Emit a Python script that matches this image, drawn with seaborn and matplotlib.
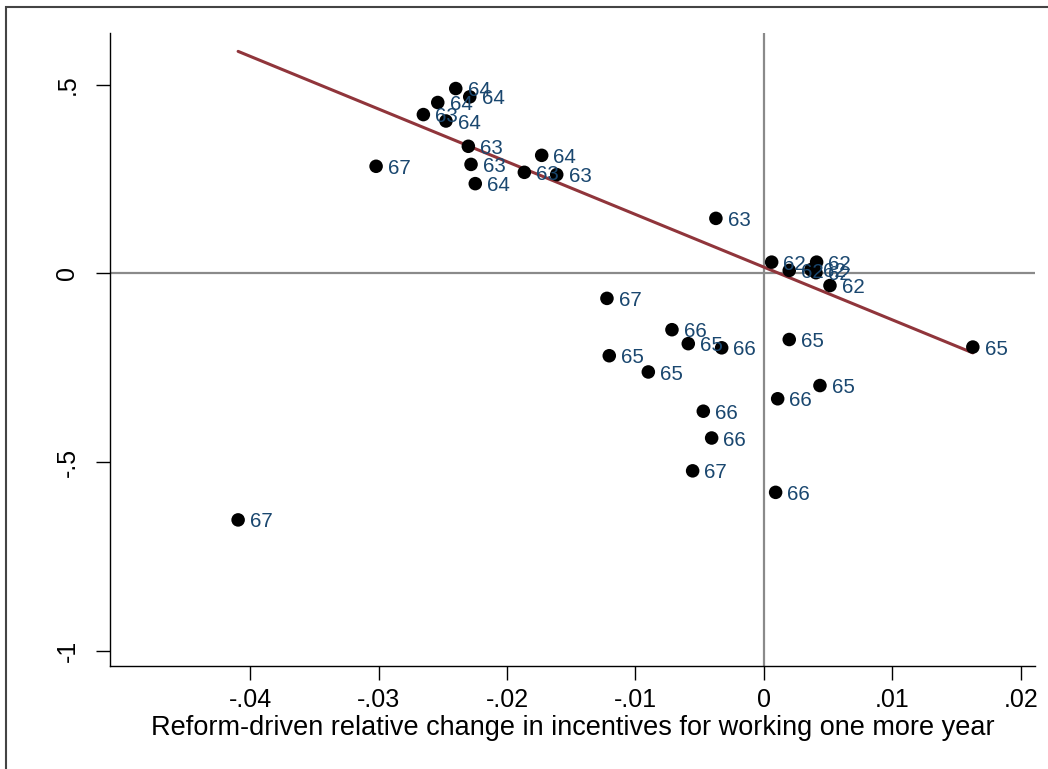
import numpy as np
import pandas as pd
import matplotlib
matplotlib.use("Agg")
import matplotlib.pyplot as plt
from matplotlib.patches import Rectangle
import seaborn as sns

# Reform-driven change in incentives (x), outcome change (y), and retirement age per observation
incentive_change = [
    -0.02399, -0.02290, -0.02539, -0.02475, -0.01730, -0.02247,   # age 64
    -0.02651, -0.02301, -0.02280, -0.01865, -0.01613, -0.00374,   # age 63
    0.00060, 0.00197, 0.00366, 0.00410, 0.00405, 0.00514,         # age 62
    -0.00589, -0.01204, -0.00900, 0.00197, 0.00436, 0.01626,      # age 65
    -0.00716, -0.00329, 0.00107, -0.00472, -0.00407, 0.00091,     # age 66
    -0.03019, -0.01222, -0.00555, -0.04093,                       # age 67
]
outcome_change = [
    0.490, 0.468, 0.453, 0.404, 0.313, 0.238,
    0.421, 0.337, 0.289, 0.268, 0.262, 0.146,
    0.030, 0.008, 0.010, 0.030, 0.002, -0.032,
    -0.186, -0.218, -0.261, -0.175, -0.297, -0.195,
    -0.149, -0.197, -0.332, -0.365, -0.436, -0.580,
    0.284, -0.066, -0.523, -0.653,
]
age = [
    64, 64, 64, 64, 64, 64,
    63, 63, 63, 63, 63, 63,
    62, 62, 62, 62, 62, 62,
    65, 65, 65, 65, 65, 65,
    66, 66, 66, 66, 66, 66,
    67, 67, 67, 67,
]

# fitted linear relationship (intercept, slope)
fit_intercept = 0.0167
fit_slope = -13.97

x_ticks = [-0.04, -0.03, -0.02, -0.01, 0.0, 0.01, 0.02]
x_tick_labels = ["-.04", "-.03", "-.02", "-.01", "0", ".01", ".02"]
y_ticks = [-1.0, -0.5, 0.0, 0.5]
y_tick_labels = ["-1", "-.5", "0", ".5"]

df = pd.DataFrame({"x": incentive_change, "y": outcome_change, "age": age})
fit_x = np.array([df["x"].min(), df["x"].max()])
fit_df = pd.DataFrame({"x": fit_x, "y": fit_intercept + fit_slope * fit_x})

sns.set_theme(style="white")
plt.rcParams["font.family"] = ["Liberation Sans", "DejaVu Sans"]

fig = plt.figure(figsize=(10.48, 7.69), dpi=100)
ax = fig.add_axes([0.105, 0.134, 0.8826, 0.823])

label_color = "#1a476f"
line_color = "#90353b"
ref_color = "#8a8a8a"

# reference lines through the origin
ax.axhline(0, color=ref_color, lw=1.6, zorder=1)
ax.axvline(0, color=ref_color, lw=1.6, zorder=1)

# fitted line over the data range
sns.lineplot(data=fit_df, x="x", y="y", color=line_color, lw=2.2, zorder=2, ax=ax)

sns.scatterplot(data=df, x="x", y="y", color="black", s=95, edgecolor="none",
                zorder=3, ax=ax, legend=False)

for xi, yi, a in zip(df["x"], df["y"], df["age"]):
    ax.annotate(str(a), (xi, yi), xytext=(8.5, -1.5), textcoords="offset points",
                ha="left", va="center", fontsize=14.8, color=label_color, zorder=4)

ax.set_xlim(-0.0509, 0.0211)
ax.set_ylim(-1.04, 0.637)
ax.set_xticks(x_ticks)
ax.set_xticklabels(x_tick_labels)
ax.set_yticks(y_ticks)
ax.set_yticklabels(y_tick_labels, rotation=90, va="center")
ax.tick_params(axis="both", direction="out", length=10, width=1, color="black",
               labelsize=18, labelcolor="black", bottom=True, left=True, pad=6)
ax.tick_params(axis="y", pad=12)

ax.set_xlabel("Reform-driven relative change in incentives for working one more year",
              fontsize=19.5, color="black", labelpad=2)
ax.set_ylabel("")

sns.despine(ax=ax, top=True, right=True)
for side in ("left", "bottom"):
    ax.spines[side].set_color("black")
    ax.spines[side].set_linewidth(1.0)

# outer frame of the graph region
fig.patches.append(Rectangle((6 / 1048, -0.05), 1.2, 1.05 - 7 / 769,
                             transform=fig.transFigure, fill=False,
                             edgecolor="#444444", lw=1.5))

fig.savefig("out.png", dpi=100)
